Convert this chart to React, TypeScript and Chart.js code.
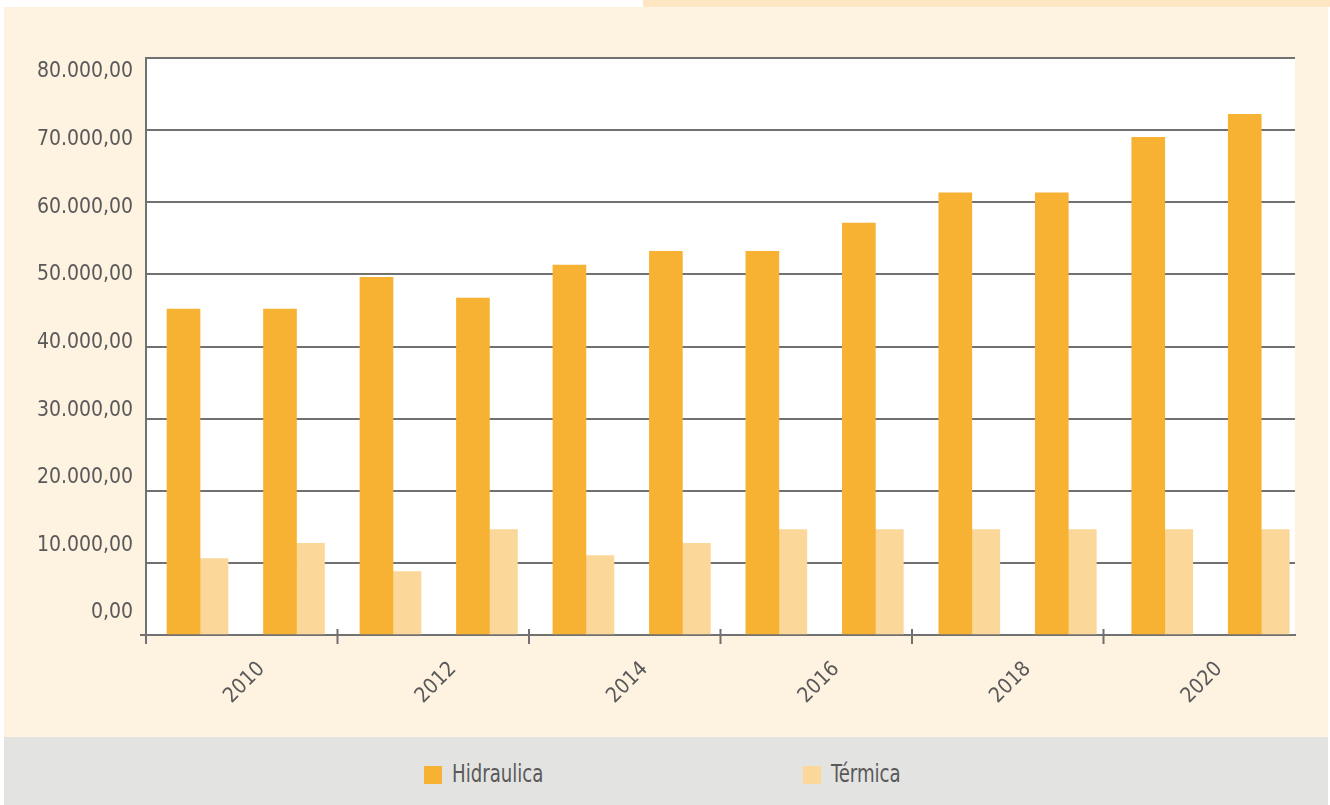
import React, { useEffect, useRef } from 'react';
import { Chart, registerables } from 'chart.js';

Chart.register(...registerables);

// 12 periods, labelled in pairs on the axis
const periods = [
  '2010 (1)', '2010 (2)', '2012 (1)', '2012 (2)', '2014 (1)', '2014 (2)',
  '2016 (1)', '2016 (2)', '2018 (1)', '2018 (2)', '2020 (1)', '2020 (2)',
];
const yearLabels = ['2010', '2012', '2014', '2016', '2018', '2020'];
const hidraulica = [45200, 45200, 49600, 46700, 51300, 53200, 53200, 57100, 61300, 61300, 69000, 72200];
const termica = [10600, 12700, 8800, 14600, 11000, 12700, 14600, 14600, 14600, 14600, 14600, 14600];
const yTickValues = [0, 10000, 20000, 30000, 40000, 50000, 60000, 70000, 80000];
const seriesNames = ['Hidraulica', 'Térmica'];
const seriesColors = ['#f7b234', '#fbd799'];
const yMax = 80000;

const FONT = "'Liberation Sans Narrow', 'DejaVu Sans Condensed', 'Arial Narrow', sans-serif";
const TEXT = '#595959';
const LINE = '#717171';

const fmt = (v: number) =>
  Math.round(v).toString().replace(/\B(?=(\d{3})+(?!\d))/g, '.') + ',00';

const decorPlugin = {
  id: 'decor',
  beforeDraw(chart: any) {
    const { ctx, chartArea } = chart;
    ctx.save();
    ctx.fillStyle = '#ffffff';
    ctx.fillRect(chartArea.left, chartArea.top, chartArea.right - chartArea.left, chartArea.bottom - chartArea.top);
    ctx.restore();
  },
  afterDraw(chart: any) {
    const { ctx, chartArea } = chart;
    const sx = chart.scales.x2;
    const n = yearLabels.length;
    const half = (sx.getPixelForValue(1) - sx.getPixelForValue(0)) / 2;
    ctx.save();
    ctx.strokeStyle = LINE;
    ctx.lineWidth = 2;
    ctx.beginPath();
    for (let i = 0; i < n; i++) {
      const x = sx.getPixelForValue(i) - half;
      ctx.moveTo(x, chartArea.bottom - (i === 0 ? 0 : 6));
      ctx.lineTo(x, chartArea.bottom + 9);
    }
    ctx.moveTo(chartArea.left - 6, chartArea.bottom);
    ctx.lineTo(chartArea.left, chartArea.bottom);
    ctx.stroke();
    ctx.restore();
  },
};

export default function App() {
  const ref = useRef<HTMLCanvasElement | null>(null);

  useEffect(() => {
    document.body.style.margin = '0';
    if (!ref.current) return;
    const chart = new Chart(ref.current, {
      type: 'bar',
      data: {
        labels: periods,
        datasets: [
          {
            label: seriesNames[0],
            data: hidraulica.map((v, i) => ({ x: i, y: v })),
            backgroundColor: seriesColors[0],
            borderWidth: 0,
            barThickness: 33,
            xAxisID: 'x',
            yAxisID: 'y',
          },
          {
            label: seriesNames[1],
            data: termica.map((v, i) => ({ x: i, y: v })),
            backgroundColor: seriesColors[1],
            borderWidth: 0,
            barThickness: 28,
            xAxisID: 'x',
            yAxisID: 'y',
          },
        ],
      },
      options: {
        responsive: false,
        animation: false,
        layout: { padding: { top: 58, right: 35, left: 0, bottom: 0 } },
        plugins: {
          legend: { display: false },
          tooltip: { enabled: false },
        },
        scales: {
          x: {
            type: 'linear',
            display: false,
            offset: false,
            min: -0.56,
            max: 11.35,
            grid: { display: false },
          },
          x2: {
            type: 'category',
            labels: yearLabels,
            position: 'bottom',
            offset: true,
            grid: { display: false },
            border: { display: true, color: LINE, width: 2 },
            ticks: {
              minRotation: 45,
              maxRotation: 45,
              autoSkip: false,
              labelOffset: 20,
              color: TEXT,
              padding: 14,
              font: { family: FONT, size: 21 },
            },
            afterFit: (s: any) => {
              s.height = 102;
            },
          },
          y: {
            position: 'left',
            min: 0,
            max: yMax,
            ticks: { display: false, stepSize: 10000 },
            grid: { color: LINE, lineWidth: 2, drawTicks: false },
            border: { display: true, color: LINE, width: 2 },
            afterFit: (s: any) => {
              s.width = 0;
            },
          },
          yLabels: {
            position: 'left',
            min: -3250,
            max: 82070,
            grid: { display: false, drawTicks: false },
            border: { display: false },
            afterBuildTicks: (s: any) => {
              s.ticks = yTickValues.map((v) => ({ value: v }));
            },
            ticks: {
              color: TEXT,
              padding: 13,
              font: { family: FONT, size: 21 },
              callback: (v: any) => fmt(Number(v)),
            },
            afterFit: (s: any) => {
              s.width = 146;
            },
          },
        },
      },
      plugins: [decorPlugin],
    } as any);
    return () => chart.destroy();
  }, []);

  return (
    <div style={{ position: 'relative', width: 1330, height: 805, background: '#ffffff', overflow: 'hidden' }}>
      <div style={{ position: 'absolute', left: 643, top: 0, width: 687, height: 7, background: '#fee6c3' }} />
      <div style={{ position: 'absolute', left: 4, top: 7, width: 1324, height: 730, background: '#fef2e1' }} />
      <div style={{ position: 'absolute', left: 4, top: 737, width: 1324, height: 68, background: '#e3e4e2' }} />
      <canvas ref={ref} width={1330} height={737} style={{ position: 'absolute', left: 0, top: 0 }} />
      {seriesNames.map((name, i) => (
        <React.Fragment key={name}>
          <div
            style={{
              position: 'absolute',
              left: i === 0 ? 424 : 803,
              top: 766,
              width: 18,
              height: 18,
              background: seriesColors[i],
            }}
          />
          <div
            style={{
              position: 'absolute',
              left: i === 0 ? 452 : 831,
              top: 762,
              fontFamily: FONT,
              fontSize: 24,
              lineHeight: '24px',
              color: TEXT,
              whiteSpace: 'nowrap',
              transform: 'scaleX(0.84)',
              transformOrigin: 'left center',
            }}
          >
            {name}
          </div>
        </React.Fragment>
      ))}
    </div>
  );
}
